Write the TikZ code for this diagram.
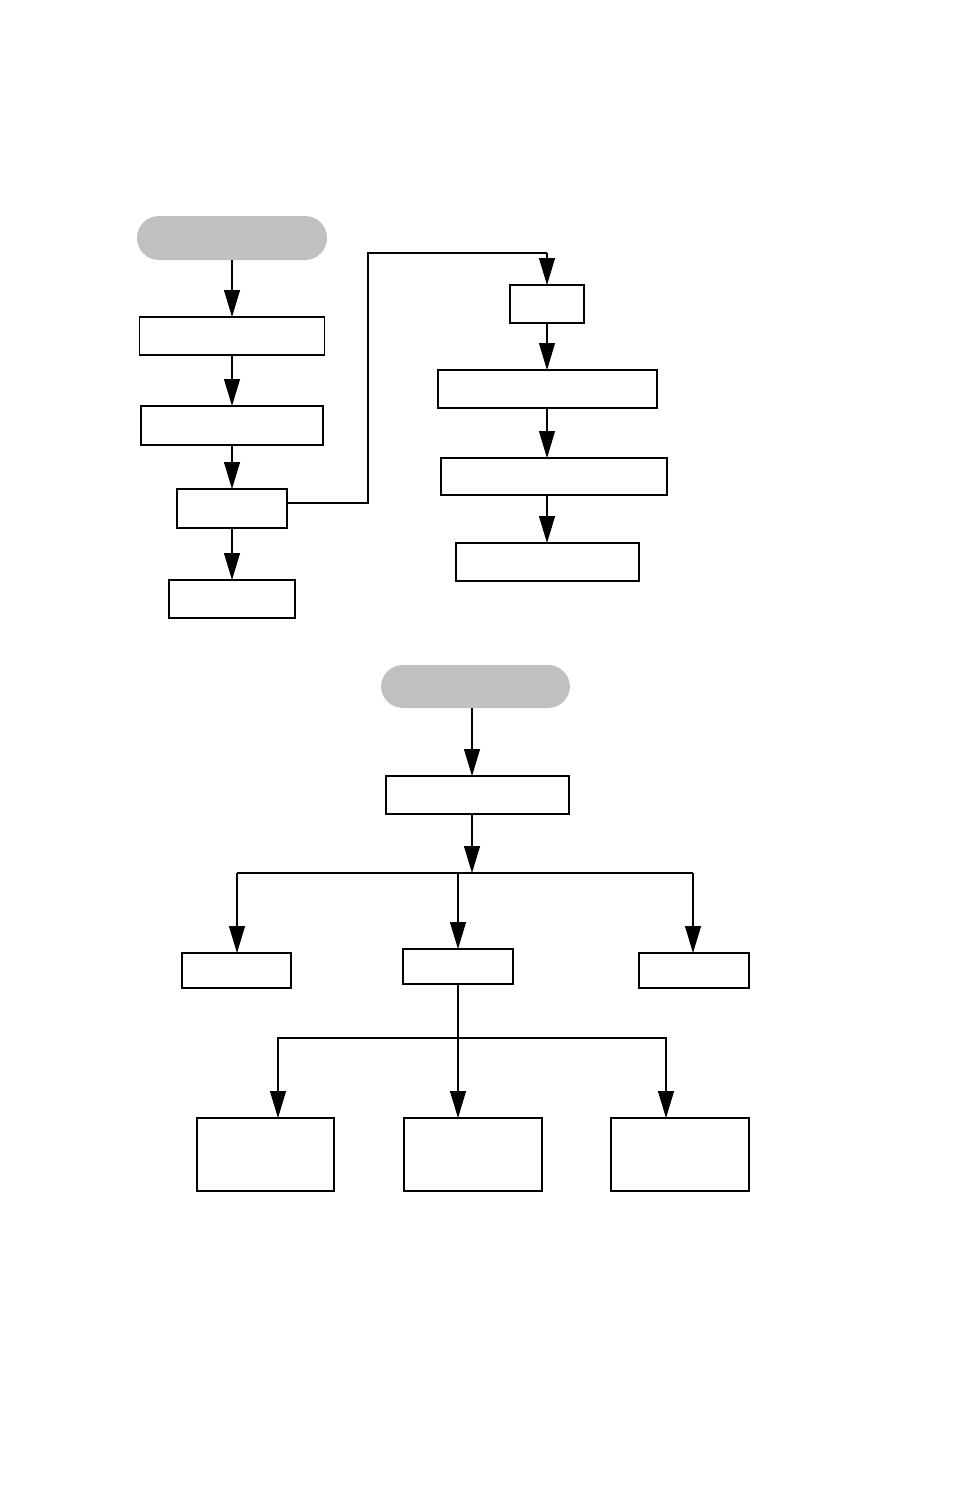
\documentclass[tikz,border=0pt]{standalone}
\usetikzlibrary{arrows.meta}
\definecolor{pillgray}{RGB}{192,192,192}
\begin{document}
\begin{tikzpicture}[x=1pt,y=-1pt,
  box/.style={draw, line width=1.3pt, inner sep=0pt, outer sep=0pt, fill=white},
  pill/.style={fill=pillgray, draw=none, rounded corners=22pt, inner sep=0pt, outer sep=0pt},
  arr/.style={line width=1.1pt, -{Triangle[length=27pt,width=16pt]}},
  ln/.style={line width=1.1pt},
  thk/.style={line width=2.2pt}
]
\useasboundingbox (0,0) rectangle (954,1493);
% upper left column
\node[pill, minimum width=190pt, minimum height=44pt] (p1) at (232,238) {};
\node[box, minimum width=185pt, minimum height=38pt] (a1) at (232,336) {};
\node[box, minimum width=182pt, minimum height=39pt] (a2) at (232,425.5) {};
\node[box, minimum width=110pt, minimum height=39pt] (a3) at (232,508.5) {};
\node[box, minimum width=126pt, minimum height=38pt] (a4) at (232,599) {};
% upper right column
\node[box, minimum width=74pt, minimum height=38pt] (b1) at (547,304) {};
\node[box, minimum width=219pt, minimum height=38pt] (b2) at (547.5,389) {};
\node[box, minimum width=226pt, minimum height=37pt] (b3) at (554,476.5) {};
\node[box, minimum width=183pt, minimum height=38pt] (b4) at (547.5,562) {};
% lower tree
\node[pill, minimum width=189pt, minimum height=43pt] (p2) at (475.5,686.5) {};
\node[box, minimum width=183pt, minimum height=38pt] (c1) at (477.5,795) {};
\node[box, minimum width=109pt, minimum height=35pt] (d1) at (236.5,970.5) {};
\node[box, minimum width=110pt, minimum height=35pt] (d2) at (458,966.5) {};
\node[box, minimum width=110pt, minimum height=35pt] (d3) at (694,970.5) {};
\node[box, minimum width=137pt, minimum height=73pt] (e1) at (265.5,1154.5) {};
\node[box, minimum width=138pt, minimum height=73pt] (e2) at (473,1154.5) {};
\node[box, minimum width=138pt, minimum height=73pt] (e3) at (680,1154.5) {};
% coordinates
\coordinate (k1) at (368,503);
\coordinate (k2) at (368,253);
\coordinate (k3) at (547,253);
\coordinate (cx) at (472,700);
\coordinate (j1) at (472,873);
\coordinate (jl) at (237,873);
\coordinate (jr) at (693,873);
\coordinate (jm) at (458,873);
\coordinate (j2) at (458,1038);
\coordinate (gl) at (278,1038);
\coordinate (gr) at (666,1038);
% upper left arrows
\draw[arr] (p1.south) -- (a1.north);
\draw[arr] (a1.south) -- (a2.north);
\draw[arr] (a2.south) -- (a3.north);
\draw[arr] (a3.south) -- (a4.north);
% jump to right column
\draw[ln] (a3.east |- k1) -- (k1) -- (k2) -- (k3);
\draw[arr] (k3) -- (b1.north);
\draw[arr] (b1.south) -- (b2.north -| b1.south);
\draw[arr] (b2.south -| b1.south) -- (b3.north -| b1.south);
\draw[arr] (b3.south -| b1.south) -- (b4.north -| b1.south);
% lower tree
\draw[arr] (p2.south -| cx) -- (c1.north -| cx);
\draw[arr] (c1.south -| cx) -- (j1);
\draw[ln] (jl) -- (jr);
\draw[arr] (jl) -- (d1.north -| jl);
\draw[arr] (jm) -- (d2.north);
\draw[arr] (jr) -- (d3.north -| jr);
\draw[ln] (d2.south) -- (j2);
\draw[thk] (gl |- 0,1080) -- (gl) -- (gr) -- (gr |- 0,1080);
\draw[arr] (gl |- 0,1079) -- (e1.north -| gl);
\draw[arr] (j2) -- (e2.north -| j2);
\draw[arr] (gr |- 0,1079) -- (e3.north -| gr);
\end{tikzpicture}
\end{document}
